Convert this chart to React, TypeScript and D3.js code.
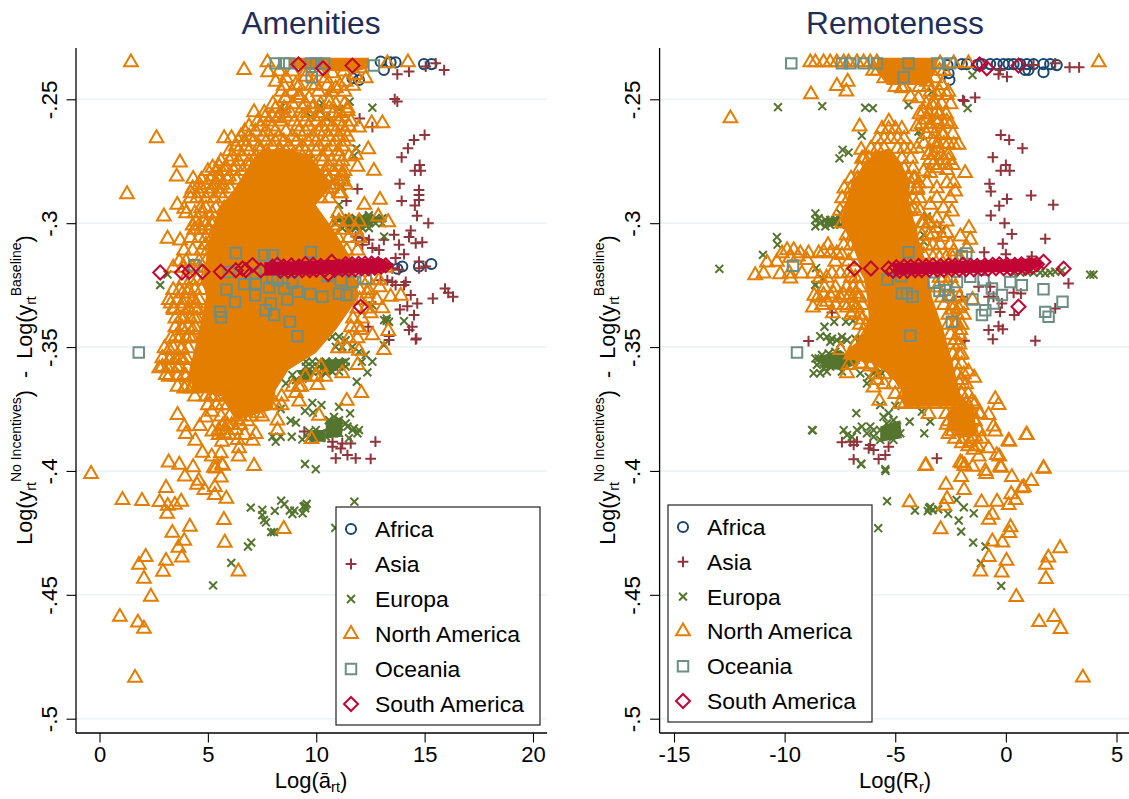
import { useEffect, useRef } from "react";
import * as d3 from "d3";

type Pt = number[];
type Row = [number, number[]];

const continents = ["Africa", "Asia", "Europa", "North America", "Oceania", "South America"];
const yTicks = [-0.25, -0.3, -0.35, -0.4, -0.45, -0.5];
const yTickLabels = ["-.25", "-.3", "-.35", "-.4", "-.45", "-.5"];
const amenXTicks = [0, 5, 10, 15, 20];
const remoXTicks = [-15, -10, -5, 0, 5];

// ---- Amenities panel, values ----
const amenAfrica: Pt[] = [[14.97,-.2358],[15.32,-.2358],[13.12,-.2382],[13.43,-.2351],[13.66,-.2351],[12.97,-.2348],[15.31,-.3165],[14.74,-.3175],[13.97,-.3175],[13.74,-.3184],[11.97,-.2422],[11.67,-.2415]];
const amenAsia: Pt[] = [[15.9,-.2382],[14.28,-.2388],[13.74,-.2399],[15.05,-.2368],[15.51,-.2355],[13.62,-.2499],[13.74,-.2509],[12,-.2577],[12.59,-.2612],[15,-.2644],[14.51,-.2664],[14.23,-.2698],[13.94,-.2734],[14.77,-.2765],[14.55,-.2788],[14.82,-.2788],[13.85,-.2841],[11.9,-.2862],[14.74,-.2866],[14.74,-.2886],[14.74,-.2906],[13.94,-.291],[11.39,-.291],[14.55,-.2929],[14.65,-.297],[15.17,-.3],[14.36,-.303],[14.28,-.3056],[14.59,-.3081],[14.89,-.3077],[13.59,-.3047],[13.12,-.3067],[13.82,-.3087],[12.59,-.31],[12.9,-.3108],[14.05,-.3125],[13.66,-.3141],[14.74,-.3155],[14.74,-.3182],[11.82,-.3054],[12.13,-.306],[12.43,-.3067],[11.82,-.3074],[12.13,-.3087],[13.51,-.3182],[13.82,-.3188],[15.05,-.3175],[15.94,-.3264],[16.09,-.3281],[16.31,-.3297],[15.38,-.3304],[14.36,-.329],[14.66,-.3324],[14.2,-.3335],[13.86,-.3348],[14.51,-.3371],[14.43,-.3418],[14.28,-.3431],[14.59,-.3469],[14.62,-.3465],[13.36,-.3472],[13.36,-.3455],[12.4,-.3418],[14.05,-.325],[14.13,-.3237],[13.51,-.3237],[13.28,-.323],[13.66,-.325],[12.97,-.323],[12.73,-.3882],[10.75,-.3902],[11.2,-.3889],[11.59,-.3889],[11.13,-.3909],[10.9,-.3949],[11.44,-.3936],[11.82,-.3949],[12.51,-.3951],[9.45,-.3841],[10.75,-.3882]];
const amenEuropa: Pt[] = [[11.54,-.2509],[12.59,-.2534],[11.05,-.2539],[10.2,-.253],[10.28,-.2516],[10.13,-.2543],[9.75,-.257],[10.47,-.2574],[8.36,-.2534],[10.59,-.2476],[11.85,-.2698],[11.75,-.2727],[9.67,-.2745],[8.75,-.2724],
[10.9,-.298],[11.2,-.298],[11.51,-.298],[11.82,-.298],[12.13,-.298],[12.43,-.298],[12.74,-.298],[13.05,-.298],[10.9,-.3],[11.2,-.3],[11.51,-.3],[11.82,-.3],[12.13,-.3],[12.43,-.3],[12.74,-.3],[13.05,-.3],[11.2,-.302],[11.51,-.302],[11.82,-.302],[12.13,-.302],[12.43,-.302],[12.13,-.2975],[12.43,-.2968],[13.13,-.3054],[11.05,-.2926],[11.2,-.2852],
[3.14,-.3207],[2.8,-.325],[13.25,-.3394],[13.13,-.3391],[13.36,-.3398],[13.25,-.3385],[14.05,-.3395],[12.59,-.3331],[13.12,-.3492],[11.97,-.3519],[12.28,-.3532],[12.1,-.3559],[12.36,-.3602],[11.87,-.364],[12.59,-.3559],
[9.52,-.3559],[9.82,-.3559],[10.13,-.3559],[10.44,-.3559],[10.74,-.3559],[11.05,-.3559],[11.36,-.3559],[9.52,-.3579],[9.82,-.3579],[10.13,-.3579],[10.44,-.3579],[10.74,-.3579],[11.05,-.3579],[11.36,-.3579],[9.82,-.3599],[10.13,-.3599],[10.44,-.3599],[10.74,-.3599],[11.05,-.3599],[8.9,-.3613],[9.52,-.362],[10.44,-.3606],[8.6,-.3647],[9.06,-.3633],[10.13,-.3472],[10.44,-.3458],[10.74,-.3458],[11.05,-.3458],[11.36,-.3472],[11.67,-.3499],[10.9,-.3499],[11.2,-.3499],
[8.36,-.375],[9.82,-.3725],[10.24,-.3734],[9.48,-.3758],[9.85,-.3765],[11.05,-.3741],[11.56,-.3768],[11.36,-.3808],[8.82,-.3797],[9.06,-.3805],[7.98,-.3862],[8.36,-.3862],[8.13,-.3882],[8.87,-.3862],[9.36,-.3873],[9.67,-.3841],
[10.59,-.3795],[10.82,-.3782],[11.05,-.3795],[10.59,-.3821],[10.82,-.3821],[11.05,-.3821],[10.82,-.3848],[10.59,-.3848],[11.05,-.3848],[9.98,-.3835],[10.21,-.3848],[9.98,-.3861],[10.21,-.3868],[10.44,-.3861],[9.67,-.3868],[11.97,-.3835],[11.74,-.3828],[11.9,-.3848],[11.51,-.3868],[11.67,-.3835],[11.44,-.3821],
[9.48,-.3972],[9.98,-.3993],[11.76,-.4124],[6.98,-.4148],[7.51,-.4157],[7.51,-.4178],[7.59,-.4198],[7.68,-.4208],[8.09,-.4161],[8.38,-.412],[8.53,-.4134],[8.78,-.416],[8.99,-.416],[8.9,-.4174],[9.37,-.4171],[9.49,-.4151],[9.56,-.4133],[9.42,-.4143],[9.49,-.414],[7.92,-.4247],[8.05,-.4247],[6.85,-.4305],[7,-.4289],[6.08,-.4371],[5.24,-.4462],[10.88,-.423]];
// overplotted Europa clusters, traced as outlines
const amenEuropaCore: Pt[][] = [
  [[10.9,-.2973],[13.2,-.2973],[12.13,-.3027],[11.5,-.3027]],
  [[10.28,-.3552],[11.51,-.3546],[11.05,-.3579],[10.59,-.362],[10.13,-.3579]],
  [[9.06,-.3593],[9.98,-.3593],[9.52,-.3647]],
  [[10.44,-.3795],[11.2,-.3782],[11.2,-.3862],[10.44,-.3868]],
  [[9.82,-.3835],[10.44,-.3835],[10.44,-.3882],[9.67,-.3882]],
];
// solid, fully overplotted part of the North America cloud, traced as outlines
const amenNACore: Pt[][] = [
  [[7.3,-.2715],[8.4,-.2695],[9.7,-.2725],[10.75,-.2845],[9.98,-.2927],[10.75,-.302],[11.67,-.3149],[11.97,-.3297],[10.9,-.3431],[9.98,-.3524],[8.73,-.3592],[8.13,-.3673],[7.98,-.3753],[6.29,-.3794],[5.68,-.37],[4.29,-.3673],[4.14,-.3592],[4.6,-.3431],[4.91,-.3297],[4.76,-.3229],[5.05,-.3068],[5.51,-.2939],[6.14,-.2871]],
  [[8.75,-.2332],[12.43,-.2332],[12.43,-.2375],[11.82,-.2388],[11.05,-.2388],[8.75,-.2375]],
];
const amenNA: Pt[] = [[1.45,-.2351],[6.67,-.2382],[2.63,-.2657],[3.71,-.2755],[3.56,-.2812],[1.27,-.2883],[3.59,-.2926],[3.91,-.2942],[2.97,-.2973],[3.14,-.3063],[3.72,-.307],[4.32,-.2821],[5.22,-.2776],[7.13,-.2552],[5.75,-.2657],[6.09,-.2657],[7.64,-.2574],[12.66,-.2789],[12.4,-.2702],[13.05,-.2597],[12.94,-.2906],[11.9,-.2772],[12.22,-.2926],[12.86,-.2973],[13.32,-.2996],[11.44,-.2547],[11.97,-.2614],[12.56,-.2597],[7.75,-.2351],[7.78,-.2391],[14.23,-.2351],[13.28,-.2355],[8.56,-.2496],[8.21,-.2577],[10.59,-.2509],[9.21,-.2483],[11.82,-.2724],[11.2,-.2798],[11.2,-.2832],[11.13,-.2879],
[8.13,-.2429],[8.6,-.2415],[9.06,-.2442],[9.52,-.2409],[9.98,-.2442],[10.44,-.2415],[10.9,-.2456],[11.36,-.2429],[11.82,-.2402],[12.28,-.2415],[8.29,-.2388],[8.9,-.2388],[9.52,-.2388],[10.13,-.2388],[10.74,-.2395],[11.28,-.2388],[12.05,-.2375],
[8.6,-.2496],[9.21,-.2496],[9.67,-.2496],[8.13,-.2536],[8.52,-.2536],[9.36,-.2536],[9.83,-.2536],[10.59,-.2536],[11.44,-.2536],[7.98,-.257],[8.29,-.257],[8.6,-.257],[9.36,-.257],[10.21,-.257],[11.2,-.257],
[6.9,-.261],[7.44,-.261],[7.98,-.261],[9.13,-.261],[9.67,-.261],[10.28,-.261],[10.74,-.261],[11.2,-.261],[11.51,-.261],[6.52,-.2651],[6.9,-.2651],[7.52,-.2651],[8.29,-.2651],[8.9,-.2651],[9.83,-.2651],[10.59,-.2651],[11.05,-.2651],[11.44,-.2651],
[6.29,-.2691],[6.75,-.2691],[7.36,-.2691],[7.98,-.2691],[8.75,-.2691],[9.36,-.2691],[10.13,-.2691],[10.74,-.2691],[11.2,-.2691],[6.13,-.2731],[6.6,-.2731],[7.21,-.2731],[7.82,-.2731],[8.9,-.2731],[9.67,-.2731],[10.28,-.2731],[11.05,-.2731],[11.51,-.2731],
[5.52,-.2772],[5.83,-.2772],[6.29,-.2772],[6.9,-.2772],[10.59,-.2772],[11.05,-.2772],[5.22,-.2812],[5.52,-.2812],[5.98,-.2812],[11.2,-.2812],[10.44,-.2812],[4.6,-.2845],[4.98,-.2845],[5.37,-.2845],[5.68,-.2845],[10.9,-.2845],[11.36,-.2845],[4.21,-.2879],[4.6,-.2879],[5.06,-.2879],[5.52,-.2879],[11.05,-.2879],
[4.68,-.294],[4.91,-.294],[5.37,-.294],[5.75,-.294],[4.45,-.2993],[4.83,-.2993],[5.21,-.2993],[5.6,-.2993],[11.05,-.2993],[11.51,-.2993],[11.97,-.2993],[4.37,-.3027],[4.68,-.3027],[5.06,-.3027],[5.37,-.3027],[11.2,-.3027],[11.82,-.3027],[4.91,-.3087],[5.21,-.3087],[5.68,-.3087],[3.68,-.3155],[3.99,-.3155],[4.6,-.3155],[4.91,-.3155],[5.37,-.3155],
[3.83,-.3284],[4.06,-.3284],[3.29,-.3324],[3.83,-.3324],[4.45,-.3324],[3.44,-.3351],[4.14,-.3351],[4.52,-.3351],[3.76,-.3384],[4.37,-.3384],[3.83,-.3431],[4.29,-.3431],[3.53,-.3458],[4.14,-.3458],[4.75,-.3458],[3.22,-.3512],[3.76,-.3512],[3.22,-.3552],[3.53,-.3552],[3.83,-.3552],[2.76,-.3586],[3.14,-.3586],[3.6,-.3586],[4.06,-.3586],[3.06,-.3613],[3.91,-.3613],[4.45,-.3613],[3.91,-.3667],[4.22,-.3667],[4.6,-.3667],[5.14,-.37],[5.6,-.37],[6.14,-.37],[7.52,-.37],[5.68,-.3734],[6.29,-.3734],[7.67,-.3734],[8.14,-.3734],
[3.6,-.3774],[5.18,-.3761],[4.91,-.3784],[7.29,-.3767],[6.83,-.38],[6.37,-.3794],[3.91,-.3821],[4.63,-.3819],[3.99,-.3851],[4.42,-.3878],[5.21,-.3841],[5.68,-.3821],[5.75,-.3848],[5.9,-.3815],[5.5,-.3835],[8.21,-.3797],[8.21,-.3835],[7.21,-.3851],[7.06,-.3878],[6.29,-.3835],[6.37,-.3875],[6.44,-.3909],[5.65,-.3882],[4.75,-.3927],[5.6,-.3929],[5.18,-.3942],[6.42,-.3942],[3.19,-.3966],[3.68,-.3975],[4.32,-.3985],[5.65,-.3975],[7.13,-.398],[5.37,-.399],
[10.13,-.3777],[11.41,-.3717],[12.08,-.3686],[9.21,-.372],[9.06,-.3686],[9.18,-.366],[10.05,-.3653],[11.2,-.3606],[11.9,-.3573],[11.97,-.3515],[9.98,-.362],[10.21,-.358],[12.59,-.3452],[12.05,-.3431],[13.12,-.3512],[13.32,-.3435],[13.05,-.3344],[12.51,-.3364],[13.9,-.3293],[13.43,-.3297],[12.93,-.3259],[12.36,-.3284],
[-.39,-.4012],[1.06,-.4117],[1.96,-.4121],[2.77,-.4126],[3.15,-.4141],[3.48,-.4137],[3.77,-.4124],[3.12,-.4173],[4.17,-.4225],[3.36,-.425],[3.91,-.4282],[3.64,-.431],[3.8,-.435],[3.07,-.4363],[2.93,-.4407],[2.13,-.4347],[1.82,-.4379],[2.05,-.4435],[2.37,-.4508],[.94,-.4589],[1.77,-.4612],[2.05,-.4637],[1.64,-.4835],[8.5,-.4234],[6.41,-.4406],[5.78,-.429],[5.74,-.4198],[5.85,-.4112],[5.32,-.4097],[5.32,-.4065],[4.84,-.4077],[5.6,-.4027],[4.5,-.4056],[4.58,-.404],[3.94,-.4023],[3.07,-.4069],[5.28,-.3987],[5.69,-.3979],[9.78,-.3871]];
// crowded rows of North America triangles around the solid part: [y, x values]
const amenNARows: Row[] = [
  [-.2445,[8.5,9.2,9.8,10.5,11.1,11.7]],[-.247,[8.4,8.9,10.1,10.7,11.3]],[-.252,[8,8.9,9.5,10.2,10.9,11.3]],[-.2555,[7.6,8.4,8.8,9.6,10.1,10.8,11.1]],
  [-.259,[7.3,7.8,8.4,9,9.5,10,10.5,11,11.6]],[-.263,[6.7,7.2,7.7,8.1,8.6,9.2,9.5,10.1,10.4,10.9,11.3]],[-.267,[6.4,6.7,7.1,7.7,8.1,8.5,9.1,9.6,10,10.4,10.9,11.3]],[-.271,[6,6.4,6.9,7.4,7.7,8.3,8.6,9.2,9.5,10,10.5,11]],
  [-.275,[5.6,6,6.4,6.9,7.3,10.3,10.7,11.2]],[-.279,[5,5.4,5.8,6.2,6.6,7,10.4,10.8,11.3]],[-.2825,[4.7,5.1,5.5,5.9,6.3,10.6,11]],[-.286,[4.3,4.7,5.2,5.6,6,10.5,10.7]],[-.29,[4.2,4.5,4.9,5.3,5.7,10.2,10.6]],
  [-.296,[4,4.4,4.7,5.2,11]],[-.301,[4.3,4.6,4.9,5.2,10.8]],[-.306,[4.2,4.6,4.9,5.2,11,11.5,12]],[-.311,[3.9,4.3,4.7,5,11.4,11.9]],[-.318,[3.4,3.9,4.3,4.6,5,12.3,12.7,13.2]],
  [-.323,[3.9,4.2,4.5,4.8,12.1,12.4,12.9]],[-.327,[3.4,3.7,4.1,4.4,4.7,12,12.4]],[-.331,[3.2,3.6,4,4.3,4.6,12,12.4,12.8]],[-.3345,[3.4,3.8,4.1,4.4,11.9,12.3]],[-.3385,[3.5,3.9,4.2,4.5,11.7,12.1]],[-.342,[3.5,3.8,4.1,4.4,11.6,11.9]],
  [-.3465,[3.3,3.7,4,4.3,11.5,11.9]],[-.3505,[3,3.4,3.8,4.1,11,11.4]],[-.3545,[2.9,3.3,3.7,4]],[-.358,[2.9,3.3,3.7]],[-.362,[3.2,3.6,4,4.3,9.5,10,10.4]],[-.366,[3.6,4,4.3,4.6,8.9,9.3]],
  [-.37,[4.4,4.9,5.3,5.9,7.9,8.4]],[-.3735,[5,5.4,5.9,6.6,7.9,8.4]],[-.378,[5.6,6,6.5,7,7.5]],[-.3815,[5.7,6.1,6.5]],[-.3855,[5.5,6,6.7]],
];
const amenOceania: Pt[] = [[8.13,-.2355],[8.52,-.2355],[8.75,-.2355],[9.75,-.2355],[9.98,-.2355],[10.36,-.2355],[12.66,-.2364],[9.79,-.2411],[6.29,-.312],[7.6,-.3129],[7.98,-.3129],[9.75,-.3116],[4.37,-.317],[5.86,-.3268],[6.26,-.3318],[5.57,-.3357],[5.6,-.338],[7.18,-.3291],[7.83,-.326],[7.9,-.3324],[7.67,-.3351],[8.06,-.3371],[8.67,-.3308],[8.52,-.3264],[9.13,-.3277],[9.72,-.3286],[10.28,-.3297],[11.05,-.3284],[11.39,-.329],[8.78,-.3398],[9.13,-.3456],[1.81,-.3522],[6.67,-.3246],[7.21,-.3243],[8.9,-.324],[10.51,-.3214],[11.13,-.323],[11.67,-.3237],[12.28,-.3223],[8.21,-.323],[7.98,-.3223],[5.98,-.3197],[7.21,-.3204]];
const amenSouthAmCore: Pt[][] = [[[7.6,-.3158],[13,-.3142],[13.55,-.3169],[12.9,-.32],[7.6,-.3212]]];
const amenSouthAm: Pt[] = [[9.18,-.2359],[10.31,-.2375],[11.67,-.2364],[12.05,-.3337],[2.8,-.3199],[3.8,-.3199],[4.14,-.3196],[4.75,-.3196],[5.6,-.3196],[6.29,-.319],[6.6,-.3183],[6.75,-.319],[7.06,-.3169],[7.44,-.319],[7.98,-.3176],
[8.2,-.3168],[8.35,-.3192],[8.5,-.3175],[8.7,-.3192],[8.85,-.317],[9,-.3192],[9.2,-.3175],[9.35,-.319],[9.5,-.3165],[9.7,-.319],[9.85,-.3168],[10,-.3188],[10.2,-.3172],[10.4,-.3188],[10.55,-.3175],[10.71,-.3156],[10.85,-.3188],[11.05,-.3176],[11.2,-.3186],[11.35,-.3165],[11.5,-.3186],[11.65,-.3165],[11.8,-.3186],[11.95,-.3164],[12.1,-.3182],[12.25,-.3163],[12.4,-.3182],[12.55,-.3163],[12.7,-.318],[12.85,-.3165],[13,-.3175],[13.2,-.317],[10.55,-.3205]];

// ---- Remoteness panel ----
const remoAfrica: Pt[] = [[-1.99,-.2358],[-1.76,-.2358],[-1.31,-.2362],[-1.08,-.2358],[-.71,-.2358],[-.41,-.2358],[-.11,-.2358],[.12,-.2358],[.35,-.2358],[.65,-.2358],[.95,-.2358],[1.25,-.2358],[1.7,-.2358],[2,-.2358],[2.3,-.2362],[1.02,-.2382],[.87,-.2382],[1.7,-.2391],[-2.59,-.2395],[-2.55,-.2422],[-2.64,-.2362]];
const remoAsia: Pt[] = [[3.31,-.2371],[2.88,-.2371],[2.23,-.2355],[1.25,-.2362],[.05,-.2409],[-.33,-.2399],[-.26,-.2382],[-1.39,-.2493],[-1.94,-.2503],[-1.88,-.2507],[-.23,-.2644],[.15,-.2664],[.75,-.2698],[-.59,-.2734],[0,-.2765],[-.23,-.2788],[.17,-.2788],[-.74,-.2841],[-.68,-.2872],[.05,-.2902],[1.14,-.2888],[-.3,-.293],[2.14,-.2926],[-.68,-.2969],[-.06,-.3],[.27,-.3044],[-.14,-.3083],[1.78,-.3063],[-.98,-.3117],[0,-.3125],[1.17,-.3134],[2.83,-.3243],[2.23,-.3344],[1.33,-.3475],[-.59,-.3468],[-1.87,-.3475],[-8.92,-.3476],[-.78,-.3431],[-.33,-.3416],[-.14,-.3428],[.38,-.3371],[-.26,-.3358],[.68,-.3284],[.35,-.3281],[-1.23,-.3257],[-.71,-.3257],[-.78,-.3297],[-.56,-.3297],[-.18,-.3324],[-1.99,-.3297],[-7.86,-.3361],[-7.41,-.3884],[-7.03,-.3882],[-6.73,-.3882],[-6.88,-.3895],[-6.13,-.3895],[-6.2,-.3909],[-5.98,-.3915],[-5.3,-.3902],[-6.88,-.3953],[-5.75,-.3952],[-5.45,-.3936],[-3.12,-.3949]];
const remoEuropa: Pt[] = [[-10.3,-.2532],[-8.3,-.2528],[-6.36,-.2534],[-6.01,-.2536],[-1.73,-.2536],[-1.51,-.2402],[-6.51,-.2647],[-7.38,-.2704],[-7.11,-.2715],[-7.52,-.2738],[-3.87,-.265],[-3.95,-.263],[-4.4,-.2523],[-3.34,-.2469],[-10.35,-.3056],[-10.32,-.3087],[-10.98,-.3128],[-12.95,-.3184],[-8.58,-.3181],[-8.27,-.3226],[-8.61,-.3249],[3.81,-.3208],[3.96,-.3208],
[-8.61,-.296],[-8.61,-.2987],[-8.61,-.3013],[-8.39,-.3],[-8.16,-.2987],[-7.94,-.2987],[-7.71,-.2987],[-8.16,-.3013],[-7.94,-.3007],[-7.71,-.3],[-7.48,-.3007],[-7.48,-.296],[-8.46,-.298],
[-4.47,-.2953],[-4.55,-.298],[-3.57,-.2973],[-2.89,-.3027],[-3.72,-.3047],[-3.72,-.3074],[-4.47,-.2966],
[.35,-.3203],[.65,-.32],[.95,-.3196],[1.25,-.32],[1.55,-.32],[1.78,-.3203],[2,-.32],[2.23,-.3196],[2.53,-.3192],[-8.61,-.325],[-8.24,-.3227],[-8.2,-.3418],[-7.76,-.3398],[-7.23,-.3398],[-6.91,-.3394],
[-8.39,-.3456],[-8.09,-.3459],[-7.86,-.3466],[-7.64,-.3472],[-7.41,-.3459],[-7.18,-.3472],[-6.81,-.3466],[-6.58,-.3466],[-7.94,-.3479],[-7.48,-.3486],
[-8.61,-.3546],[-8.31,-.3532],[-8.01,-.3526],[-7.71,-.3519],[-8.39,-.3559],[-8.09,-.3559],[-7.79,-.3559],[-7.48,-.3559],[-8.24,-.3586],[-7.94,-.3579],[-8.69,-.3606],[-8.39,-.3606],[-8.09,-.3599],[-7.41,-.3599],[-6.58,-.3606],[-6.2,-.362],[-5.98,-.3606],[-5.68,-.3599],[-6.28,-.3647],[-8.46,-.3546],[-8.16,-.3546],[-7.86,-.3546],[-8.54,-.3572],[-7.64,-.3572],
[-6.76,-.3767],[-8.76,-.3835],[-3.69,-.3848],[-4.35,-.3801],[-3.42,-.3801],[-3.8,-.3761],[-5,-.3737],[-5.68,-.3734],[-6.55,-.3972],[-5.45,-.3993],
[-7.33,-.3835],[-7.18,-.3855],[-6.96,-.3862],[-6.73,-.3835],[-6.51,-.3821],[-6.13,-.3821],[-6.28,-.3848],[-5.98,-.3862],[-5.68,-.3835],[-5.38,-.3808],[-5.08,-.3795],[-5.53,-.3782],[-5.3,-.3767],[-4.92,-.3821],[-4.77,-.3848],[-5.08,-.3875],[-5.38,-.3862],[-5.68,-.3875],[-5.98,-.3835],[-5.3,-.3835],[-5.08,-.3848],
[-5.37,-.4122],[-4.11,-.416],[-3.47,-.415],[-3.31,-.4158],[-3.06,-.4155],[-2.61,-.4173],[-2.23,-.4117],[-1.9,-.4147],[-2.13,-.42],[-2.02,-.4245],[-1.45,-.4171],[-1.48,-.4289],[-.92,-.4305],[-1.13,-.4372],[-.21,-.4464],[-5.77,-.4231],[-5.44,-.4],[-6.53,-.3972],[-8.73,-.3836],[-3.53,-.4162],[-3.42,-.4145]];
const remoEuropaCore: Pt[][] = [
  [[-8.54,-.354],[-7.48,-.3512],[-6.58,-.3566],[-7.48,-.3593],[-8.24,-.3586]],
  [[-8.24,-.298],[-7.48,-.2973],[-7.48,-.3007],[-8.16,-.3013]],
  [[-6.13,-.3593],[-5.38,-.3593],[-5.68,-.362]],
  [[-5.68,-.3821],[-4.77,-.3795],[-4.7,-.3868],[-5.68,-.3882]],
];
const remoNACore: Pt[][] = [
  [[-5.23,-.2698],[-4.77,-.2751],[-4.32,-.2832],[-4.4,-.2926],[-4.02,-.302],[-3.87,-.3095],[-3.57,-.3162],[-3.34,-.3297],[-2.82,-.3431],[-2.44,-.3552],[-2.21,-.3633],[-2.06,-.3687],[-1.61,-.3741],[-2.82,-.3741],[-4.62,-.3741],[-4.77,-.366],[-5.38,-.3606],[-5.98,-.3566],[-7.33,-.3546],[-7.18,-.3512],[-6.43,-.3458],[-6.2,-.3378],[-6.28,-.3297],[-6.43,-.3216],[-6.96,-.3082],[-7.48,-.2993],[-7.26,-.2926],[-6.96,-.2832],[-6.28,-.2751],[-5.83,-.2711]],
  [[-5.83,-.2332],[-3.12,-.2332],[-3.12,-.2375],[-3.57,-.2442],[-5.38,-.2442],[-5.83,-.2388]],
  [[-2.52,-.3741],[-1.46,-.3741],[-1.31,-.3855],[-1.91,-.3865],[-2.67,-.3821]],
];
const remoNA: Pt[] = [[4.2,-.2351],[-12.45,-.2577],[-8.81,-.248],[-7.64,-.2446],[-7.15,-.2429],[-7.21,-.2469],[-6.61,-.261],[-6.54,-.2704],[-6.4,-.2738],[-5.29,-.259],
[-8.84,-.2351],[-8.61,-.2351],[-8.24,-.2351],[-7.94,-.2351],[-7.64,-.2351],[-7.33,-.2351],[-7.11,-.2351],[-6.73,-.2351],[-6.43,-.2351],[-6.13,-.2351],[-5.83,-.2351],[-1.69,-.2355],[-2.36,-.2355],[-2.97,-.2355],
[-4.7,-.2456],[-4.32,-.2489],[-3.95,-.2496],[-3.12,-.2483],[-2.67,-.2483],[-2.89,-.2442],[-3.57,-.2429],
[-3.34,-.2523],[-3.72,-.255],[-3.12,-.255],[-2.67,-.259],[-3.12,-.2583],[-3.57,-.2583],[-4.02,-.261],[-3.42,-.2617],[-2.82,-.2644],[-3.27,-.2671],[-4.02,-.2698],[-3.42,-.2711],[-2.36,-.2684],[-2.14,-.2684],[-3.12,-.2698],[-2.59,-.2745],[-2.82,-.2745],[-3.42,-.2745],[-3.12,-.2778],[-3.72,-.2792],[-3.42,-.2798],[-2.67,-.2785],[-1.84,-.2798],[-2.36,-.2839],[-2.67,-.2839],[-3.95,-.2839],[-4.17,-.2819],[-3.57,-.2839],[-2.29,-.2872],[-3.12,-.2859],[-4.02,-.2866],[-3.12,-.2899],[-2.52,-.2899],[-4.47,-.2906],[-4.17,-.294],[-3.42,-.2926],[-2.82,-.294],[-2.44,-.2953],[-4.47,-.2953],[-3.12,-.298],[-2.67,-.2993],[-3.12,-.302],[-1.67,-.302],[-1.61,-.3067],[-2.67,-.304],[-2.06,-.3054],[-2.52,-.3087],[-4.32,-.306],[-4.02,-.31],[-3.72,-.3128],[-2.97,-.3087],[-2.36,-.3114],[-1.76,-.31],[-3.42,-.3],[-3.72,-.3],[-3.3,-.3045],[-2.89,-.3055],
[-11.33,-.321],[-10.95,-.3203],[-10.8,-.3159],[-10.2,-.3206],[-9.78,-.3203],[-9.74,-.3223],[-10.12,-.3122],[-9.89,-.3109],[-9.59,-.3109],[-9.29,-.3122],[-10.35,-.3156],[-8.99,-.3149],[-9.22,-.3203],[-8.72,-.3203],[-8.92,-.3122],[-8.46,-.3122],[-8.04,-.3089],[-8.24,-.3116],[-7.94,-.3122],[-7.64,-.3122],[-7.86,-.3203],[-7.71,-.3156],[-7.33,-.3089],[-7.41,-.3129],[-7.48,-.3203],[-9.4,-.3135],[-9.75,-.314],[-7.1,-.3155],[-6.85,-.313],[-7.1,-.32],
[-8.66,-.3293],[-8.72,-.334],[-8.09,-.3317],[-8.24,-.329],[-7.79,-.3284],[-7.82,-.3364],[-7.33,-.329],[-7.18,-.334],[-6.73,-.334],[-6.51,-.3389],[-6.28,-.3445],[-7.48,-.3512],[-7.11,-.3573],[-6.58,-.3566],[-6.13,-.3579],[-7.18,-.3606],[-5.83,-.3633],[-5.98,-.3663],[-5.72,-.3717],[-3.49,-.377],[-4.55,-.3727],[-4.02,-.372],[-7.05,-.329],[-6.8,-.3285],[-6.6,-.33],[-6.9,-.336],
[-2.11,-.3532],[-1.69,-.3599],[-2.02,-.3633],[-1.43,-.3624],[-2.29,-.3472],[-2.06,-.3431],[-2.21,-.3404],[-2.14,-.3344],[-2.4,-.335],[-1.51,-.331],
[-.48,-.371],[-.33,-.3734],[-1.54,-.372],[-1.76,-.3727],[-1.16,-.377],[-.78,-.3774],[-1.46,-.3794],[-1.76,-.3754],[-2.06,-.376],[-2.36,-.3767],[-2.67,-.3814],[-2.36,-.3821],[-1.91,-.3808],[-1.61,-.3821],[-.56,-.3821],[-.48,-.3841],[.92,-.3855],[.12,-.3879],[-2.59,-.3851],[-1.39,-.3861],[-1.99,-.3888],[-1.61,-.3882],[-.78,-.3909],[-.41,-.3936],[-1.23,-.3942],[-1.46,-.3915],[-.3,-.3942],[-3.64,-.398],[-2.06,-.3966],[-1.88,-.398],[1.7,-.3989],[-.26,-.3983],[-.93,-.4],
[-3.61,-.3978],[-1.98,-.397],[-1.85,-.398],[-1.5,-.3983],[-.89,-.4012],[-2.02,-.4025],[-.21,-.3987],[.27,-.4025],[1.71,-.3991],[.95,-.3855],[.16,-.3882],[-2.71,-.4056],[-1.89,-.4077],[1.15,-.4041],[.81,-.4066],[.73,-.407],[.24,-.4094],[-.4,-.4124],[-1.1,-.4127],[-2.66,-.4113],[-4.35,-.4127],[-2.79,-.4141],[.44,-.4117],[.13,-.4138],[-.61,-.4177],[-.77,-.4197],[-2.95,-.4235],[.21,-.4227],[.16,-.4251],[-.16,-.4289],[-.61,-.4285],[-.77,-.4348],[.03,-.4363],[-1.15,-.4406],[-.19,-.441],[2.45,-.4312],[1.92,-.435],[1.81,-.4379],[1.81,-.4436],[.47,-.4509],[1.5,-.461],[2.18,-.459],[2.47,-.4638],[3.48,-.4834]];
const remoNARows: Row[] = [
  [-.2385,[-6,-5.8,-3,-2.8]],[-.2415,[-5.5,-3.6,-3.2]],[-.245,[-5,-4.6,-3.9,-3.5]],[-.247,[-3.4,-3,-2.6]],[-.252,[-3.6,-3.2,-2.9,-2.5]],[-.256,[-3.9,-3.5,-3,-2.7]],[-.26,[-3.8,-3.4,-3.1,-2.8,-2.5]],
  [-.262,[-5.6,-5.3,-5,-4.7]],[-.264,[-3.6,-3.2,-2.9,-2.4]],[-.266,[-5.8,-5.5,-5.2,-4.9,-4.6]],[-.268,[-3.7,-3.1,-2.8,-2.6]],[-.27,[-6.1,-5.8,-5.5,-4.9,-4.6,-4.3]],[-.2725,[-3.5,-3.2,-2.9,-2.6]],
  [-.274,[-6.5,-6.2,-5.9,-4.7,-4.3]],[-.2765,[-3.3,-3,-2.7,-2.4]],[-.278,[-6.6,-6.3,-4.6,-4.2]],[-.282,[-7,-6.7,-6.4,-4.4,-4.1]],[-.286,[-7.3,-7,-6.7,-4.3,-4]],[-.29,[-7.4,-7.1,-6.8,-4.2,-3.9]],[-.295,[-7.5,-7.2,-4.3,-3.9]],[-.3,[-7.4,-7.1,-3.8,-3.5]],[-.305,[-7.2,-6.9,-3.8,-3.5]],[-.309,[-7,-6.7,-3.6,-3.3]],
  [-.314,[-3.3,-3,-2.7,-2.4,-2.1]],[-.322,[-8.4,-8.1,-7,-6.8,-6.6,-3,-2.8,-2.5]],[-.326,[-8.2,-7.7,-7.2,-6.9,-6.6,-3.1,-2.7,-2.3]],[-.33,[-8.5,-7.9,-7.5,-7.1,-6.7,-2.9,-2.5,-2.1]],[-.333,[-8.3,-7.7,-7.3,-6.9,-6.5,-2.8,-2.4,-2]],[-.337,[-7,-6.6,-2.6,-2.2,-1.9]],[-.341,[-6.6,-6.3,-2.6,-2.3,-2]],[-.345,[-6.5,-6.2,-2.5,-2.1]],[-.349,[-6.4,-6.8,-2.4,-2.1]],[-.353,[-7,-6.6,-2.4,-2]],[-.357,[-6.5,-6.1,-2.3,-2]],[-.361,[-5.9,-5.5,-2.2,-1.9]],[-.365,[-5.5,-5.1,-2.1,-1.8]],[-.369,[-5,-4.6,-2,-1.7]],
  [-.373,[-4.8,-4.2,-3.7,-3.2,-2.7,-1.8,-1.4]],[-.377,[-2.7,-2.3,-1.9,-1.5,-1.2]],[-.38,[-2.6,-2.2,-1.8,-1.4]],[-.384,[-2.4,-2,-1.7,-1.2]],[-.387,[-2.3,-1.9,-1.5,-1.1]],[-.39,[-1.7,-1.3]],
];
const remoOceania: Pt[] = [[-9.7,-.2355],[-7.41,-.2355],[-7.03,-.2355],[-6.43,-.2355],[-5.83,-.2355],[-4.4,-.2355],[-3.09,-.2355],[-2.52,-.2355],[-4.62,-.2411],[-4.4,-.3117],[-1.79,-.3122],[-1.99,-.3133],[-9.62,-.3172],[-5.35,-.3227],[-4.74,-.3214],[-3.27,-.324],[-4.7,-.3284],[-4.47,-.3284],[-4.22,-.3297],[-3,-.3274],[-2.74,-.327],[-2.59,-.329],[-1.51,-.3308],[-2.44,-.3398],[-4.32,-.3454],[-9.44,-.3522],[-.93,-.3351],[-1.08,-.3371],[-.56,-.3324],[-.63,-.3264],[-.18,-.329],[.2,-.3237],[.72,-.325],[1.7,-.3267],[2.56,-.3317],[1.78,-.3358],[1.93,-.3378],[-2.21,-.3237],[-1.61,-.3216],[-1.01,-.323]];
const remoSouthAmCore: Pt[][] = [[[-5.08,-.3162],[1.3,-.3142],[1.75,-.3162],[1.1,-.3195],[-5.08,-.3209]]];
const remoSouthAm: Pt[] = [[.57,-.2364],[-1.19,-.2359],[-.86,-.2375],[.57,-.3337],[2.61,-.3184],[1.7,-.3156],[-6.85,-.3183],[-6.1,-.3183],[-5.3,-.3183],
[-5.1,-.3192],[-4.95,-.3178],[-4.8,-.3192],[-4.6,-.3175],[-4.45,-.3192],[-4.3,-.3176],[-4.1,-.319],[-3.95,-.3172],[-3.8,-.319],[-3.6,-.3174],[-3.45,-.3188],[-3.3,-.317],[-3.1,-.3188],[-2.95,-.3172],[-2.8,-.3188],[-2.6,-.317],[-2.45,-.3186],[-2.3,-.3172],[-2.1,-.3186],[-1.95,-.3168],[-1.8,-.3186],[-1.6,-.3172],[-1.45,-.3186],[-1.3,-.3172],[-1.1,-.3184],[-.95,-.317],[-.8,-.3184],[-.6,-.3168],[-.45,-.3182],[-.3,-.3166],[-.1,-.3182],[.05,-.3168],[.2,-.3182],[.4,-.3168],[.55,-.318],[.7,-.3166],[.9,-.318],[1.05,-.3168],[1.2,-.3176],[1.4,-.3166]];

const fromRows = (rows: Row[]): Pt[] => rows.flatMap(([y, xs]) => xs.map((x) => [x, y]));

const NAVY = "#1a476f", MAROON = "#90353b", FOREST = "#55752f", ORANGE = "#e37e00", TEAL = "#6e8e84", CRANBERRY = "#c10534";
const FONT = "'Liberation Sans', Arial, sans-serif";

// d3's stroke symbols for each group, same order as continents
const symbols = [
  { type: d3.symbolCircle, size: 80, color: NAVY, width: 2 },
  { type: d3.symbolPlus, size: 40, color: MAROON, width: 2 },
  { type: d3.symbolTimes, size: 42, color: FOREST, width: 2 },
  { type: d3.symbolTriangle2, size: 135, color: ORANGE, width: 2 },
  { type: d3.symbolSquare2, size: 140, color: TEAL, width: 2 },
  { type: d3.symbolDiamond2, size: 125, color: CRANBERRY, width: 2 },
];

const panels = [
  { title: "Amenities", titleX: 311, left: 76, right: 547, xRange: [99.5, 533], xDomain: [0, 20], xTicks: amenXTicks,
    series: [amenAfrica, amenAsia, amenEuropa, [...amenNA, ...fromRows(amenNARows)], amenOceania, amenSouthAm],
    cores: { 2: amenEuropaCore, 3: amenNACore, 5: amenSouthAmCore } as Record<number, Pt[][]>,
    yLabelX: 32, yTickX: 57, xTitle: "bar", legend: { x: 336, y: 507, w: 204, h: 218 } },
  { title: "Remoteness", titleX: 895, left: 659.6, right: 1129, xRange: [674, 1116.5], xDomain: [-15, 5], xTicks: remoXTicks,
    series: [remoAfrica, remoAsia, remoEuropa, [...remoNA, ...fromRows(remoNARows)], remoOceania, remoSouthAm],
    cores: { 2: remoEuropaCore, 3: remoNACore, 5: remoSouthAmCore } as Record<number, Pt[][]>,
    yLabelX: 615, yTickX: 640, xTitle: "R", legend: { x: 668, y: 505, w: 204, h: 217 } },
];

const TOP = 48, BOTTOM = 733;

const App = () => {
  const svgRef = useRef<SVGSVGElement | null>(null);

  useEffect(() => {
    const svg = d3.select(svgRef.current);
    svg.selectAll("*").remove();
    const y = d3.scaleLinear().domain([-0.25, -0.5]).range([99.3, 718.7]);

    panels.forEach((p) => {
      const x = d3.scaleLinear().domain(p.xDomain).range(p.xRange);
      const g = svg.append("g").attr("font-family", FONT);

      g.append("text").attr("x", p.titleX).attr("y", 34).attr("text-anchor", "middle")
        .attr("font-size", 31.7).attr("fill", "#1e2d5a").text(p.title);

      // grid
      g.append("g").selectAll("line").data(yTicks).join("line")
        .attr("x1", p.left).attr("x2", p.right)
        .attr("y1", (d) => y(d)).attr("y2", (d) => y(d))
        .attr("stroke", "#eaf2f3").attr("stroke-width", 1.6);

      // points, drawn in legend order
      p.series.forEach((pts, i) => {
        const s = symbols[i];
        const layer = g.append("g");
        if (p.cores[i]) {
          const line = d3.line<Pt>().x((d) => x(d[0])).y((d) => y(d[1]));
          layer.selectAll("path.core").data(p.cores[i]).join("path").attr("class", "core")
            .attr("d", (d) => line(d) + "Z").attr("fill", s.color);
        }
        const sym = d3.symbol().type(s.type).size(s.size);
        layer.selectAll("path.pt").data(pts).join("path").attr("class", "pt")
          .attr("d", sym as any)
          .attr("transform", (d) => `translate(${x(d[0])},${y(d[1])})`)
          .attr("fill", "none").attr("stroke", s.color).attr("stroke-width", s.width);
      });

      // axes
      const yAxis = g.append("g").attr("transform", `translate(${p.left},0)`)
        .call(d3.axisLeft(y).tickValues(yTicks).tickSize(9.5).tickFormat((_, i) => yTickLabels[i]) as any);
      yAxis.select(".domain").remove();
      yAxis.append("line").attr("y1", TOP).attr("y2", BOTTOM).attr("stroke", "#000").attr("stroke-width", 1.3);
      yAxis.selectAll(".tick line").attr("stroke-width", 1.1);
      yAxis.selectAll(".tick text").attr("x", null).attr("dy", null)
        .attr("text-anchor", "middle").attr("font-family", FONT).attr("font-size", 22.5).attr("fill", "#000")
        .attr("transform", `translate(${p.yTickX - p.left},0) rotate(-90)`);

      const xAxis = g.append("g").attr("transform", `translate(0,${BOTTOM})`)
        .call(d3.axisBottom(x).tickValues(p.xTicks).tickSize(9.5).tickFormat(d3.format("d")) as any);
      xAxis.select(".domain").remove();
      xAxis.append("line").attr("x1", p.left).attr("x2", p.right).attr("stroke", "#000").attr("stroke-width", 1.3);
      xAxis.selectAll(".tick line").attr("stroke-width", 1.1);
      xAxis.selectAll(".tick text").attr("y", 29).attr("dy", null).attr("font-family", FONT)
        .attr("font-size", 22).attr("fill", "#000").text((d: any) => String(d).replace("\u2212", "-"));

      // x title
      const xt = g.append("text").attr("x", p.titleX).attr("y", 788).attr("text-anchor", "middle").attr("font-size", 22);
      xt.append("tspan").text(p.xTitle === "bar" ? "Log(\u0101" : "Log(R");
      xt.append("tspan").attr("dy", 4).attr("font-size", 14.5).text(p.xTitle === "bar" ? "rt" : "r");
      xt.append("tspan").attr("dy", -4).text(")");

      // y title, with sub and superscripts
      const yt = g.append("text").attr("text-anchor", "middle").attr("font-size", 21.6)
        .attr("transform", `translate(${p.yLabelX},390) rotate(-90)`);
      const logPart = (sup: string) => {
        yt.append("tspan").text("Log(y");
        yt.append("tspan").attr("dy", 4).attr("font-size", 14).text("rt");
        yt.append("tspan").attr("dy", -15).attr("font-size", 14).text(sup);
        yt.append("tspan").attr("dy", 11).text(")");
      };
      logPart("No Incentives");
      yt.append("tspan").style("white-space", "pre").text("  -  ");
      logPart("Baseline");

      // legend
      const lg = g.append("g").attr("transform", `translate(${p.legend.x},${p.legend.y})`);
      lg.append("rect").attr("x", 0).attr("y", 0).attr("width", p.legend.w).attr("height", p.legend.h)
        .attr("fill", "#fff").attr("stroke", "#222").attr("stroke-width", 1.2);
      const rowY = d3.scalePoint().domain(continents).range([22, p.legend.h - 21]);
      continents.forEach((c, i) => {
        const s = symbols[i];
        lg.append("path").attr("d", d3.symbol().type(s.type).size(s.size)() as string)
          .attr("transform", `translate(15,${rowY(c)})`)
          .attr("fill", "none").attr("stroke", s.color).attr("stroke-width", s.width);
        lg.append("text").attr("x", 39).attr("y", (rowY(c) as number) + 8).attr("font-size", 22.9).attr("fill", "#000").text(c);
      });
    });
  }, []);

  return (
    <svg ref={svgRef} width={1129} height={799} style={{ position: "absolute", left: 0, top: 0, background: "#fff" }} />
  );
};

export default App;
